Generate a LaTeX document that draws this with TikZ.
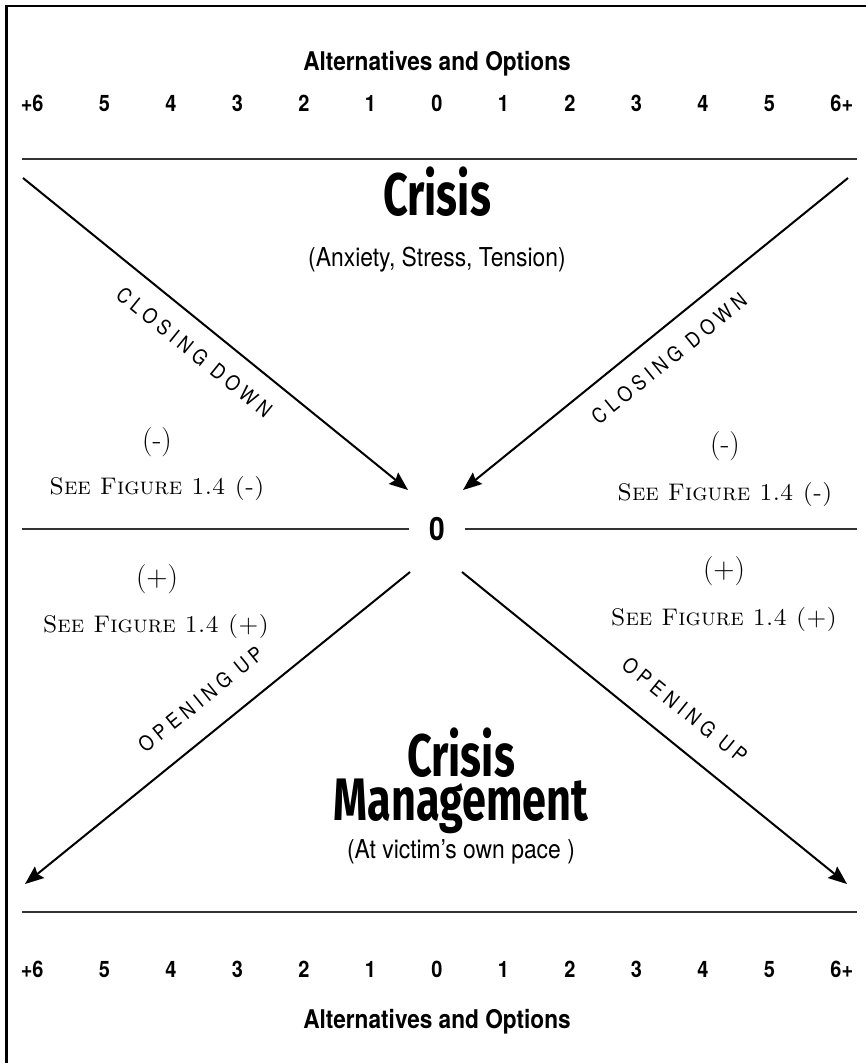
\documentclass[tikz,border=0pt]{standalone}
\usepackage{fontspec}
\newfontfamily\headfont[FakeStretch=0.88]{TeX Gyre Heros}
\newfontfamily\spacedfont[FakeStretch=0.88,LetterSpace=24]{TeX Gyre Heros}
\newfontfamily\comicfont[FakeStretch=0.72]{Fira Sans}
\usetikzlibrary{arrows.meta}

\begin{document}
\begin{tikzpicture}[x=0.75pt,y=-0.75pt,
	hline/.style={line width=1.1pt,black!80},
	arr/.style={line width=1.5pt,-{Stealth[length=14pt,width=11pt,inset=2pt]}},
	num/.style={anchor=base,inner sep=0pt,font=\headfont\bfseries\fontsize{17}{20}\selectfont},
	alt/.style={anchor=base,inner sep=0pt,font=\headfont\bfseries\fontsize{19.3}{22}\selectfont},
	bigword/.style={anchor=base,inner sep=0pt,font=\comicfont\bfseries\fontsize{45}{31.5}\selectfont},
	subline/.style={anchor=base,inner sep=0pt,font=\headfont\fontsize{19.5}{22}\selectfont},
	sign/.style={inner sep=0pt,font=\fontsize{22}{26}\selectfont},
	seefig/.style={anchor=base,inner sep=0pt,font=\scshape\fontsize{18}{21}\selectfont},
	arrlab/.style={sloped,inner sep=0pt,font=\spacedfont\fontsize{15.5}{18}\selectfont}]
		
		\useasboundingbox (0,0) rectangle (866,1063);
		\draw[line width=1.9pt] (6.5,1063) -- (6.5,6) -- (866,6);
		
		\node[alt] (altup) at (437,70) {Alternatives and Options};
		\node[alt] (altdn) at (437,1028) {Alternatives and Options};
		\foreach \lab [count=\i from 0] in {\llap{+}6,5,4,3,2,1,0,1,2,3,4,5,6\rlap{+}}{
			\node[num] (up\i) at (38+66.5*\i,111) {\lab};
			\node[num] (dn\i) at (38+66.5*\i,977) {\lab};
		}
		\draw[hline] (22,159) -- (857,159);
		\draw[hline] (22,912) -- (857,912);
		
		\node[bigword] (crisis) at (437,215) {Crisis};
		\node[subline] (stress) at (437,266) {(Anxiety, Stress, Tension)};
		\node[bigword,anchor=south,align=center] (manage) at (461,834) {Crisis\\Management};
		\node[subline] (pace) at (461,858) {(At victim’s own pace )};
		
		\node[font=\headfont\bfseries\fontsize{24}{28}\selectfont,minimum width=41pt,inner sep=0pt] (zero) at (437,529) {0};
		\draw[hline] (22,529) -- (zero.west);
		\draw[hline] (zero.east) -- (857,529);
		
		\coordinate (ctl) at (23,178); \coordinate (ctr) at (848,178);
		\coordinate (cbl) at (25,884); \coordinate (cbr) at (847,884);
		\coordinate (htl) at (408,490); \coordinate (htr) at (463,490);
		\coordinate (hbl) at (410,572); \coordinate (hbr) at (462,572);
		\draw[arr] (ctl) -- (htl) node[arrlab,pos=0.49,below=14pt] (closel) {CLOSING DOWN};
		\draw[arr] (ctr) -- (htr) node[arrlab,pos=0.51,below=14pt] (closer) {CLOSING DOWN};
		\draw[arr] (hbl) -- (cbl) node[arrlab,pos=0.49,above=18pt] (openl) {OPENING UP};
		\draw[arr] (hbr) -- (cbr) node[arrlab,pos=0.525,above=18pt] (openr) {OPENING UP};
		
		\node[sign] (minl) at (157,442) {(-)};
		\node[seefig] (seeml) at (157,494) {See Figure 1.4 (-)};
		\node[sign] (minr) at (725,446) {(-)};
		\node[seefig] (seemr) at (725,500) {See Figure 1.4 (-)};
		\node[sign] (plusl) at (157,579) {(+)};
		\node[seefig] (seepl) at (156,632) {See Figure 1.4 (+)};
		\node[sign] (plusr) at (724,571) {(+)};
		\node[seefig] (seepr) at (724,625) {See Figure 1.4 (+)};
		
	\end{tikzpicture}
\end{document}
